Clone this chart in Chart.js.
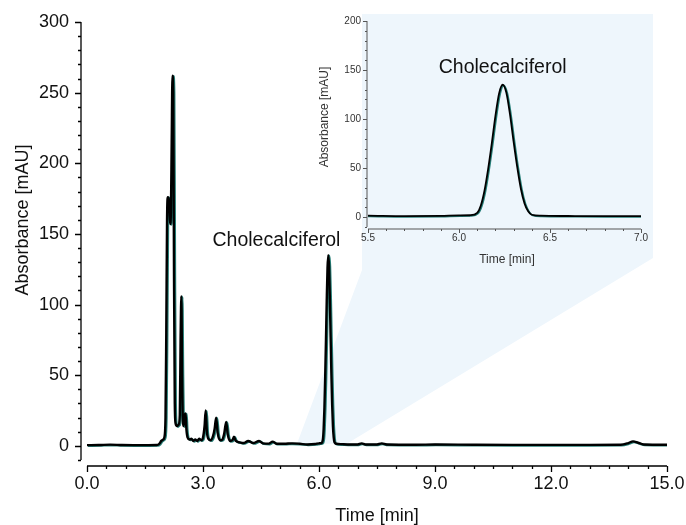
<!DOCTYPE html>
<html>
<head>
<meta charset="utf-8">
<script src="https://cdn.jsdelivr.net/npm/chart.js@4.4.1/dist/chart.umd.min.js"></script>
<style>
  html, body { margin: 0; padding: 0; background: #fff; }
  #wrap { position: relative; width: 686px; height: 525px; }
  #main { position: absolute; left: 0; top: 0; }
  #inset { position: absolute; left: 300px; top: 0; }
</style>
</head>
<body>
<div id="wrap">
  <canvas id="main" width="686" height="525"></canvas>
  <canvas id="inset" width="386" height="280"></canvas>
</div>
<script>
// retention time [min] and absorbance [mAU]
var times = [
  0.00, 0.30, 0.60, 0.90, 1.20, 1.50, 1.80, 1.87, 1.92, 1.97,
  2.00, 2.03, 2.05, 2.07, 2.09, 2.11, 2.13, 2.15, 2.17, 2.19,
  2.21, 2.23, 2.25, 2.27, 2.29, 2.33, 2.37, 2.40, 2.42, 2.44,
  2.46, 2.48, 2.50, 2.53, 2.55, 2.57, 2.60, 2.65, 2.70, 2.75,
  2.80, 2.85, 2.90, 2.95, 3.00, 3.04, 3.07, 3.10, 3.14, 3.20,
  3.26, 3.30, 3.34, 3.38, 3.44, 3.50, 3.55, 3.60, 3.64, 3.70,
  3.76, 3.80, 3.85, 3.95, 4.05, 4.17, 4.30, 4.45, 4.55, 4.70,
  4.80, 4.90, 5.10, 5.30, 5.50, 5.70, 5.90, 6.00, 6.06, 6.10,
  6.12, 6.14, 6.16, 6.18, 6.20, 6.22, 6.24, 6.26, 6.28, 6.30,
  6.32, 6.34, 6.36, 6.38, 6.40, 6.45, 6.60, 6.80, 7.00, 7.10,
  7.20, 7.50, 7.62, 7.75, 8.50, 9.00, 10.00, 11.00, 12.00, 13.00,
  13.80, 14.00, 14.12, 14.25, 14.40, 15.00
];
var absorbance = [
  0.5, 0.6, 0.9, 0.6, 0.5, 0.5, 0.6, 1.5, 3.5, 4.5,
  6, 20, 80, 160, 176, 175, 168, 157, 165, 215,
  262, 250, 120, 30, 16, 14, 15, 22, 75, 106,
  50, 17, 14, 22, 23, 12, 6, 4.5, 5, 3.5,
  4.5, 3.5, 5, 4, 6, 14, 25, 10, 5, 4,
  7, 12, 20, 9, 4, 4.5, 9, 17, 8, 3.5,
  4, 6.5, 3.5, 2.5, 2, 3.5, 2, 3.5, 1.8, 1.6,
  3, 1.5, 1.5, 1.8, 1.5, 1.0, 1.3, 1.8, 2, 4.5,
  12, 27, 49, 75, 103, 126, 135, 127, 105, 77,
  51, 29, 14, 6, 2.5, 1.5, 1.2, 1.0, 1.0, 1.8,
  1.0, 1.0, 1.8, 1.0, 0.8, 1.0, 0.8, 0.7, 0.7, 0.7,
  0.8, 2, 3.2, 2.2, 1, 0.8
];

var mainXTicks = [0, 3, 6, 9, 12, 15];
var mainYTicks = [0, 50, 100, 150, 200, 250, 300];
var insetXTicks = [5.5, 6.0, 6.5, 7.0];
var insetYTicks = [0, 50, 100, 150, 200];
var peakName = 'Cholecalciferol';
var xTitle = 'Time [min]';
var yTitle = 'Absorbance [mAU]';

var FONT = '"Liberation Sans", Arial, sans-serif';

var points = times.map(function (t, i) { return { x: t, y: absorbance[i] }; });

// draws spines, ticks and labels in the offset "Origin" look
function drawAxes(chart, o) {
  var ctx = chart.ctx;
  var xs = chart.scales.x, ys = chart.scales.y;
  var area = chart.chartArea;
  var sx = area.left - o.yGap;      // y spine position
  var sy = area.bottom + o.xGap;    // x spine position
  ctx.save();
  ctx.strokeStyle = o.color;
  ctx.lineWidth = o.lineWidth;
  ctx.beginPath();
  ctx.moveTo(sx, area.top); ctx.lineTo(sx, area.bottom);
  ctx.moveTo(xs.getPixelForValue(xs.min), sy); ctx.lineTo(xs.getPixelForValue(xs.max), sy);
  // y ticks, minor and major
  for (var v = ys.min; v <= ys.max + 1e-9; v += o.yMinor) {
    var p = Math.round(ys.getPixelForValue(v)) + 0.5;
    var isMajor = o.yTicks.indexOf(Math.round(v * 100) / 100) >= 0;
    ctx.moveTo(sx, p); ctx.lineTo(sx - (isMajor ? o.majorLen : o.minorLen), p);
  }
  // x ticks, minor and major
  var steps = Math.round((xs.max - xs.min) / o.xMinor);
  for (var i = 0; i <= steps; i++) {
    var xv = Math.round((xs.min + i * o.xMinor) * 100) / 100;
    var px = Math.round(xs.getPixelForValue(xv)) + 0.5;
    var maj = o.xTicks.indexOf(xv) >= 0;
    ctx.moveTo(px, sy); ctx.lineTo(px, sy + (maj ? o.majorLen : o.minorLen));
  }
  ctx.stroke();

  ctx.fillStyle = o.textColor;
  ctx.font = o.tickFont;
  ctx.textAlign = 'right';
  ctx.textBaseline = 'middle';
  o.yTicks.forEach(function (t) {
    ctx.fillText(String(t), sx - o.yLabelGap, ys.getPixelForValue(t));
  });
  ctx.textAlign = 'center';
  o.xTicks.forEach(function (t) {
    ctx.fillText(t.toFixed(1), xs.getPixelForValue(t), sy + o.xLabelGap);
  });

  ctx.font = o.titleFont;
  ctx.fillText(xTitle, o.xTitlePos[0], o.xTitlePos[1]);
  ctx.save();
  ctx.translate(o.yTitlePos[0], o.yTitlePos[1]);
  ctx.rotate(-Math.PI / 2);
  ctx.fillText(yTitle, 0, 0);
  ctx.restore();

  ctx.font = o.peakFont;
  ctx.fillStyle = '#111';
  ctx.fillText(peakName, xs.getPixelForValue(o.peakAt[0]), ys.getPixelForValue(o.peakAt[1]));
  ctx.restore();
}

// teal/green fringe of the overlaid traces
var fringe = {
  id: 'fringe',
  beforeDatasetsDraw: function (chart) {
    var ctx = chart.ctx;
    ctx.save();
    ctx.shadowColor = 'rgba(0, 105, 95, 0.85)';
    ctx.shadowOffsetX = 1;
    ctx.shadowOffsetY = 0.6;
    ctx.shadowBlur = 0;
  },
  afterDatasetsDraw: function (chart) {
    chart.ctx.restore();
  }
};

// light blue zoom panel plus the wedge down to the peak
var zoomShade = {
  id: 'zoomShade',
  beforeDatasetsDraw: function (chart) {
    var ctx = chart.ctx, xs = chart.scales.x, ys = chart.scales.y;
    ctx.save();
    ctx.fillStyle = '#eef6fc';
    ctx.beginPath();
    ctx.moveTo(xs.getPixelForValue(5.43), ys.getPixelForValue(1.5));
    ctx.lineTo(362, 270);
    ctx.lineTo(362, 14);
    ctx.lineTo(653, 14);
    ctx.lineTo(653, 258);
    ctx.lineTo(xs.getPixelForValue(6.72), ys.getPixelForValue(1.5));
    ctx.closePath();
    ctx.fill();
    ctx.restore();
  }
};

var mainAxes = {
  id: 'mainAxes',
  afterDraw: function (chart) {
    drawAxes(chart, {
      yGap: 6, xGap: 6, color: '#000', lineWidth: 1.3,
      yMinor: 10, xMinor: 0.5, majorLen: 6, minorLen: 3,
      yTicks: mainYTicks, xTicks: mainXTicks,
      textColor: '#111', tickFont: '18px ' + FONT, titleFont: '18px ' + FONT,
      peakFont: '19.5px ' + FONT,
      yLabelGap: 12, xLabelGap: 18,
      xTitlePos: [377, 516], yTitlePos: [23, 220],
      peakAt: [4.9, 145]
    });
  }
};

var insetAxes = {
  id: 'insetAxes',
  afterDraw: function (chart) {
    drawAxes(chart, {
      yGap: 1, xGap: 2, color: '#555', lineWidth: 1,
      yMinor: 10, xMinor: 0.1, majorLen: 4, minorLen: 2,
      yTicks: insetYTicks, xTicks: insetXTicks,
      textColor: '#333', tickFont: '10px ' + FONT, titleFont: '12px ' + FONT,
      peakFont: '19.5px ' + FONT,
      yLabelGap: 6, xLabelGap: 9,
      xTitlePos: [207, 260], yTitlePos: [25, 117],
      peakAt: [6.24, 152]
    });
  }
};

function lineDataset(width) {
  return {
    data: points,
    borderColor: '#000',
    borderWidth: width,
    pointRadius: 0,
    fill: false,
    tension: 0.4,
    cubicInterpolationMode: 'monotone'
  };
}

new Chart(document.getElementById('main').getContext('2d'), {
  type: 'line',
  data: { datasets: [lineDataset(2.4)] },
  options: {
    responsive: false,
    animation: false,
    layout: { padding: { left: 87, right: 19, top: 22, bottom: 65 } },
    scales: {
      x: { type: 'linear', min: 0, max: 15, display: false },
      y: { type: 'linear', min: -10, max: 300, display: false }
    },
    plugins: { legend: { display: false }, tooltip: { enabled: false } }
  },
  plugins: [zoomShade, fringe, mainAxes]
});

new Chart(document.getElementById('inset').getContext('2d'), {
  type: 'line',
  data: { datasets: [lineDataset(1.8)] },
  options: {
    responsive: false,
    animation: false,
    layout: { padding: { left: 68, right: 45, top: 21, bottom: 53 } },
    scales: {
      x: { type: 'linear', min: 5.5, max: 7.0, display: false },
      y: { type: 'linear', min: -10, max: 200, display: false }
    },
    plugins: { legend: { display: false }, tooltip: { enabled: false } }
  },
  plugins: [fringe, insetAxes]
});
</script>
</body>
</html>
